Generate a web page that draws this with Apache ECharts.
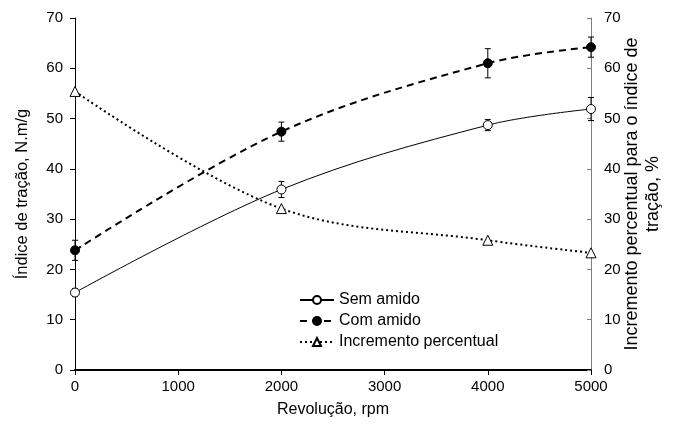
<!DOCTYPE html>
<html>
<head>
<meta charset="utf-8">
<script src="https://cdn.jsdelivr.net/npm/echarts@6/dist/echarts.min.js"></script>
<style>
  html, body { margin: 0; padding: 0; background: #fff; }
  #main { width: 673px; height: 433px; }
</style>
</head>
<body>
<div id="main"></div>
<script>
// dados
var rpm = [0, 2000, 4000, 5000];
var semAmido = [15.4, 35.9, 48.7, 51.9];
var semAmidoErr = [0.8, 1.6, 1.1, 2.3];
var comAmido = [23.8, 47.4, 61.0, 64.2];
var comAmidoErr = [2.0, 1.9, 2.9, 2.0];
var incremento = [55.4, 32.1, 25.8, 23.3];

var FONT = 'Liberation Sans, Arial, sans-serif';

function pares(ys) {
	return rpm.map(function (x, i) { return [x, ys[i]]; });
}
function barras(ys, es) {
	return rpm.map(function (x, i) { return [x, ys[i] - es[i], ys[i] + es[i]]; });
}

// barras de erro desenhadas pela escala do eixo
function renderErro(params, api) {
	var x = api.value(0);
	var lo = api.coord([x, api.value(1)]);
	var hi = api.coord([x, api.value(2)]);
	var w = 3;
	var st = { stroke: '#000', lineWidth: 1 };
	return {
		type: 'group',
		children: [
			{ type: 'line', shape: { x1: lo[0], y1: lo[1], x2: hi[0], y2: hi[1] }, style: st },
			{ type: 'line', shape: { x1: lo[0] - w, y1: lo[1], x2: lo[0] + w, y2: lo[1] }, style: st },
			{ type: 'line', shape: { x1: hi[0] - w, y1: hi[1], x2: hi[0] + w, y2: hi[1] }, style: st }
		]
	};
}

var myChart = echarts.init(document.getElementById('main'));
myChart.setOption({
	animation: false,
	textStyle: { fontFamily: FONT },
	grid: { left: 75, right: 82, top: 18, bottom: 63, containLabel: false, outerBoundsMode: 'none' },
	legend: {
		orient: 'vertical',
		left: 294,
		top: 287,
		itemGap: 5,
		itemWidth: 34,
		itemHeight: 10,
		textStyle: { fontSize: 16, color: '#000', fontFamily: FONT },
		data: ['Sem amido', 'Com amido', 'Incremento percentual']
	},
	xAxis: {
		type: 'value',
		min: 0, max: 5000, interval: 1000,
		name: 'Revolução, rpm',
		nameLocation: 'middle',
		nameGap: 32,
		nameTextStyle: { fontSize: 16, color: '#000' },
		splitLine: { show: false },
		axisLine: { lineStyle: { color: '#000', width: 2 } },
		axisTick: { length: 5, lineStyle: { color: '#000' } },
		axisLabel: { fontSize: 15, color: '#000', margin: 9, formatter: function (v) { return String(v); } }
	},
	yAxis: [{
		type: 'value',
		min: 0, max: 70, interval: 10,
		name: 'Índice de tração, N.m/g',
		nameLocation: 'middle',
		nameGap: 44,
		nameTextStyle: { fontSize: 16.5, color: '#000' },
		splitLine: { show: false },
		axisLine: { show: true, lineStyle: { color: '#000', width: 1 } },
		axisTick: { show: true, length: 5, lineStyle: { color: '#000' } },
		axisLabel: { fontSize: 15, color: '#000', margin: 12 }
	}, {
		type: 'value',
		position: 'right',
		min: 0, max: 70, interval: 10,
		name: 'Incremento percentual para o índice de\ntração, %',
		nameLocation: 'middle',
		nameRotate: 90,
		nameGap: 31,
		nameMoveOverlap: false,
		nameTextStyle: { fontSize: 18, color: '#000', lineHeight: 21, align: 'center' },
		splitLine: { show: false },
		axisLine: { show: true, lineStyle: { color: '#808080', width: 1 } },
		axisTick: { show: true, inside: true, length: 4, lineStyle: { color: '#808080' } },
		axisLabel: { fontSize: 15, color: '#000', margin: 13 }
	}],
	series: [{
		name: 'Sem amido',
		type: 'line',
		smooth: 0.35,
		data: pares(semAmido),
		symbol: 'circle',
		symbolSize: 9,
		z: 5,
		itemStyle: { color: '#fff', borderColor: '#000', borderWidth: 1 },
		lineStyle: { color: '#000', width: 1 }
	}, {
		name: 'Com amido',
		type: 'line',
		smooth: 0.35,
		data: pares(comAmido),
		symbol: 'circle',
		symbolSize: 9,
		z: 5,
		itemStyle: { color: '#000', borderColor: '#000', borderWidth: 1 },
		lineStyle: { color: '#000', width: 2, type: [7, 5] }
	}, {
		name: 'Incremento percentual',
		type: 'line',
		smooth: 0.35,
		yAxisIndex: 1,
		data: pares(incremento),
		symbol: 'triangle',
		symbolSize: 10,
		z: 5,
		itemStyle: { color: '#fff', borderColor: '#000', borderWidth: 1 },
		lineStyle: { color: '#000', width: 2, type: [2, 3] }
	}, {
		name: 'erroSem',
		type: 'custom',
		renderItem: renderErro,
		data: barras(semAmido, semAmidoErr),
		encode: { x: 0, y: [1, 2] },
		z: 3
	}, {
		name: 'erroCom',
		type: 'custom',
		renderItem: renderErro,
		data: barras(comAmido, comAmidoErr),
		encode: { x: 0, y: [1, 2] },
		z: 3
	}]
});
</script>
</body>
</html>
